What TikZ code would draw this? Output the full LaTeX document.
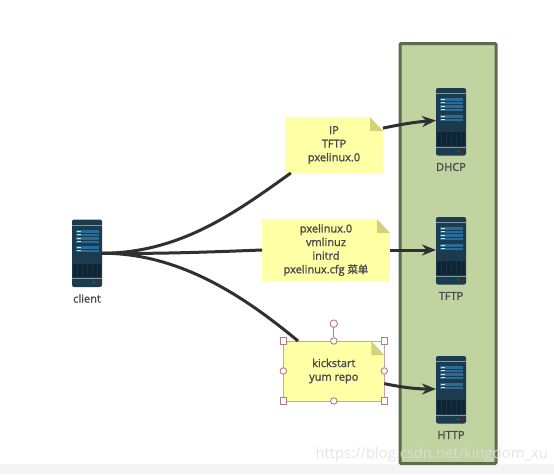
\documentclass[tikz,border=0pt]{standalone}
\usepackage{fontspec}
\setmainfont{Open Sans}
\newfontfamily\labelfont[FakeBold=1.6]{Open Sans}
\newfontfamily\cjk[Scale=0.95,FakeBold=1]{Noto Sans CJK SC}
\usetikzlibrary{arrows.meta,calc}
\definecolor{pagegray}{HTML}{F4F4F4}
\definecolor{rackfill}{HTML}{C0D3A1}
\definecolor{rackline}{HTML}{5F6B4E}
\definecolor{srvbody}{HTML}{1D3B4F}
\definecolor{srvgrille}{HTML}{0E2534}
\definecolor{srvstrip}{HTML}{7F98A6}
\definecolor{srvpanel}{HTML}{2A6C98}
\definecolor{notefill}{HTML}{FFFFA6}
\definecolor{notefold}{HTML}{D1D37A}
\definecolor{wire}{HTML}{303030}
\definecolor{labeltext}{HTML}{4A4A4A}
\definecolor{handle}{HTML}{B57C7E}
\tikzset{
  notebox/.style={fill=notefill,inner sep=0pt,outer sep=0pt,align=center,text=labeltext,
    font=\labelfont\fontsize{11}{13.6}\selectfont},
  wireline/.style={wire,line width=3pt},
  wirearrow/.style={wireline,-{Stealth[length=14pt,width=11pt]}},
  sqhandle/.style={draw=handle,fill=white,line width=0.9pt,minimum size=6.5pt,inner sep=0pt},
  rdhandle/.style={draw=handle,fill=white,line width=0.9pt,circle,minimum size=6.5pt,inner sep=0pt},
  pics/server/.style={code={
    \node[fill=srvbody,rounded corners=2pt,minimum width=30pt,minimum height=67.5pt,inner sep=0pt,outer sep=0pt,anchor=north west] (-body) at (0,0) {};
    \fill[srvstrip] (0,5) rectangle (30,6.2);
    \fill[srvstrip] (0,58.5) rectangle (30,59.7);
    \fill[srvgrille] (1,44) rectangle (29,57.5);
    \foreach \x in {5,10,15,20,25} \fill[srvbody!60!srvgrille] (\x,44) rectangle (\x+.6,57.5);
    \foreach \y in {10,17,26.5} {
      \fill[srvpanel] (4,\y) rectangle (26.5,\y+6.3);
      \fill[srvbody] (4,\y+3) rectangle (26.5,\y+3.5);
      \fill[white!80!srvpanel] (4.5,\y+1) rectangle (8.5,\y+2);
      \fill[white!80!srvpanel] (4.5,\y+4.2) rectangle (8.5,\y+5.2);
    }
    \fill[green!60!black] (22,63) circle (1pt);
    \fill[red!70!black] (26.5,63) circle (1pt);
    \node[text=labeltext,font=\labelfont\fontsize{11}{12}\selectfont] (-label) at (15,79) {#1};
  }}
}
\begin{document}
\begin{tikzpicture}[x=1pt,y=-1pt]
  \useasboundingbox (0,0) rectangle (554,474);
  \fill[pagegray] (0,464) rectangle (554,474);

  % Rack behind the three servers
  \node[draw=rackline,fill=rackfill,line width=3pt,rounded corners=1pt,minimum width=96pt,minimum height=420pt,inner sep=0pt,outer sep=0pt,anchor=north west] (rack) at (400,43.5) {};

  % Servers
  \pic (client) at (72,219.5) {server=client};
  \pic (dhcp) at (436,88) {server=DHCP};
  \pic (tftp) at (436,217) {server=TFTP};
  \pic (http) at (436,356) {server=HTTP};

  % Notes
  \node[notebox,minimum width=98pt,minimum height=56pt] (noteip) at (334,145) {IP\\TFTP\\pxelinux.0};
  \node[notebox,minimum width=128pt,minimum height=62pt] (notefiles) at (326,250) {pxelinux.0\\vmlinuz\\initrd\\pxelinux.cfg {\cjk 菜单}};
  \node[notebox,draw=handle!70,line width=0.5pt,minimum width=101pt,minimum height=60pt] (notekick) at (333.8,371) {kickstart\\yum repo};
  \foreach \n in {noteip,notefiles,notekick} {
    \fill[white] ($(\n.north east)+(-13,0)$) -- (\n.north east) -- ($(\n.north east)+(0,14)$) -- cycle;
    \fill[notefold] ($(\n.north east)+(-13,0)$) -- ($(\n.north east)+(0,14)$) -- ($(\n.north east)+(-13,14)$) -- cycle;
  }
  \draw[handle!70,line width=0.5pt] ($(notekick.north east)+(-13,0)$) -- (notekick.north east) -- ($(notekick.north east)+(0,14)$);

  % Client to notes
  \draw[wireline] (client-body.east) .. controls (180,253) and (235,213) .. (noteip.213);
  \draw[wireline] (client-body.east) .. controls (160,254) and (210,252) .. (notefiles.west);
  \draw[wireline] (client-body.east) .. controls (180,253) and (245,297) .. (notekick.140.6);

  % Notes to servers
  \draw[wirearrow] (noteip.19) .. controls (400,124.5) and (415,122) .. (dhcp-body.west |- 0,120.5);
  \draw[wirearrow] (notefiles.east) -- (tftp-body.west |- notefiles.east);
  \draw[wirearrow] (notekick.-14.4) .. controls (400,387) and (415,389) .. (http-body.west |- 0,389);

  % Selection handles on the last note
  \foreach \a in {north west,north east,south west,south east}
    \node[sqhandle] (sq \a) at (notekick.\a) {};
  \foreach \a in {north,south,east,west}
    \node[rdhandle] (rd \a) at (notekick.\a) {};
  \node[rdhandle,minimum size=7.5pt] (rotate) at (333.8,323.7) {};
  \draw[handle,line width=0.9pt] (rotate) -- (rd north);

  \node[text=gray!25,opacity=.85,anchor=west,font=\fontsize{14.8}{16}\selectfont] (mark) at (312,455) {https://blog.csdn.net/kingdom\_xu};
\end{tikzpicture}
\end{document}
